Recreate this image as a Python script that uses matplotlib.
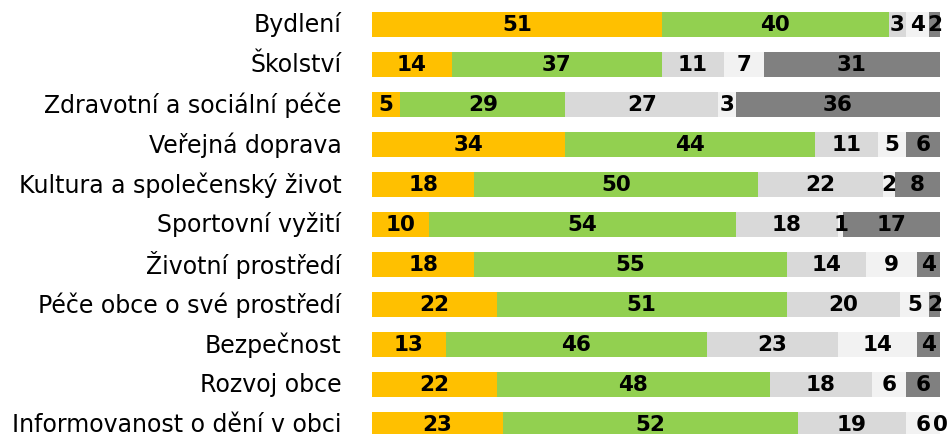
import matplotlib.pyplot as plt
import matplotlib.transforms as mtransforms
import numpy as np

categories = [
    "Bydlení",
    "Školství",
    "Zdravotní a sociální péče",
    "Veřejná doprava",
    "Kultura a společenský život",
    "Sportovní vyžití",
    "Životní prostředí",
    "Péče obce o své prostředí",
    "Bezpečnost",
    "Rozvoj obce",
    "Informovanost o dění v obci",
]

very_satisfied = [51, 14, 5, 34, 18, 10, 18, 22, 13, 22, 23]
satisfied = [40, 37, 29, 44, 50, 54, 55, 51, 46, 48, 52]
dissatisfied = [3, 11, 27, 11, 22, 18, 14, 20, 23, 18, 19]
very_dissatisfied = [4, 7, 3, 5, 2, 1, 9, 5, 14, 6, 6]
dont_know = [2, 31, 36, 6, 8, 17, 4, 2, 4, 6, 0]

series = [very_satisfied, satisfied, dissatisfied, very_dissatisfied, dont_know]
colors = ["#FFC000", "#92D050", "#D9D9D9", "#F2F2F2", "#808080"]

fig = plt.figure(figsize=(9.48, 4.35), dpi=100)
ax = fig.add_axes([372 / 948, 0, 568 / 948, 1])

y = np.arange(len(categories))
left = np.zeros(len(categories))
for vals, col in zip(series, colors):
    vals = np.array(vals, dtype=float)
    ax.barh(y, vals, left=left, height=0.625, color=col, linewidth=0)
    for yi, (l, v) in enumerate(zip(left, vals)):
        ax.text(l + v / 2, yi, f"{int(v)}", ha="center", va="center",
                fontsize=15.5, fontweight="bold", color="black")
    left += vals

ax.set_xlim(0, 100)
ax.set_ylim(10.2375, -0.6375)
ax.set_yticks(y)
ax.set_yticklabels(categories, fontsize=17)
ax.tick_params(axis="y", length=0, pad=22)
ax.set_xticks([])
for s in ax.spines.values():
    s.set_visible(False)

# nudge category labels up a bit so the last one isn't clipped
shift = mtransforms.ScaledTranslation(0, 3 / 100, fig.dpi_scale_trans)
for lbl in ax.get_yticklabels():
    lbl.set_transform(lbl.get_transform() + shift)

fig.savefig("out.png", dpi=100)
